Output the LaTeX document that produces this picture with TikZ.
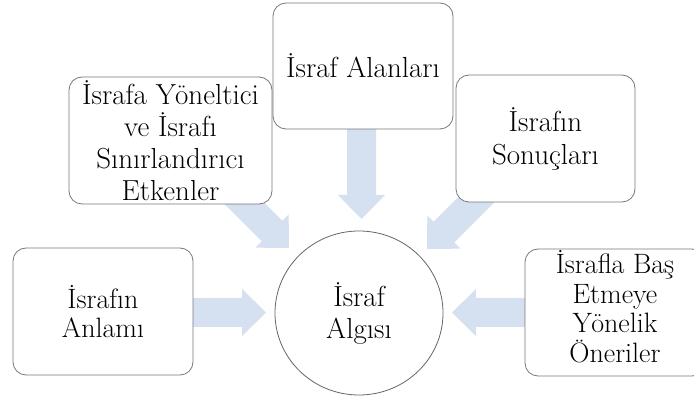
\documentclass[tikz,border=0pt]{standalone}
\usetikzlibrary{calc,shapes.geometric}
\definecolor{arrowblue}{RGB}{213,224,241}
\definecolor{boxgray}{RGB}{120,120,120}
\newcommand\blockarrow[3]{%
  \coordinate (#3h) at ($(#2)!24pt!(#1)$);
  \fill[arrowblue] ($(#1)!14.5pt!90:(#2)$) -- ($(#3h)!14.5pt!90:(#2)$) -- ($(#3h)!23.5pt!90:(#2)$)
    -- (#2) -- ($(#3h)!23.5pt!-90:(#2)$) -- ($(#3h)!14.5pt!-90:(#2)$) -- ($(#1)!14.5pt!-90:(#2)$) -- cycle;}
\tikzset{
  rbox/.style={draw=boxgray, line width=0.8pt, fill=white, rounded corners=13pt,
    minimum width=180pt, minimum height=127pt, inner sep=0pt, align=center,
    font=\fontsize{29}{32}\selectfont},
  tight/.style={font=\fontsize{28}{29.5}\selectfont},
  txt/.style={align=center, inner sep=0pt},
  oval/.style={draw=boxgray!85!black, line width=0.8pt, fill=white, ellipse,
    minimum width=168pt, minimum height=164pt, inner sep=0pt, align=center,
    font=\fontsize{29}{32}\selectfont}
}
\begin{document}
\begin{tikzpicture}[x=1pt, y=-1pt]
\useasboundingbox (0,0) rectangle (694,403);
\fill[white] (0,0) rectangle (694,403);
% arrow start / tip coordinates
\coordinate (sL) at (103,312.5);
\coordinate (tL) at (266,312.5);
\coordinate (sR) at (615,312.5);
\coordinate (tR) at (452,312.5);
\coordinate (sT) at (361.5,66);
\coordinate (tT) at (361.5,219);
\coordinate (sUL) at (189,148);
\coordinate (tUL) at (289,248);
\coordinate (sUR) at (527,149);
\coordinate (tUR) at (427,249);
\blockarrow{sL}{tL}{aL}
\blockarrow{sR}{tR}{aR}
\blockarrow{sT}{tT}{aT}
\blockarrow{sUL}{tUL}{aUL}
\blockarrow{sUR}{tUR}{aUR}
% boxes
\node[rbox, minimum width=203pt] (ul) at (170.5,140.5) {İsrafa Yöneltici\\ve İsrafı\\Sınırlandırıcı\\Etkenler};
\node[rbox, minimum height=126pt] (top) at (363,66) {İsraf Alanları};
\node[rbox, minimum width=179pt, font=\fontsize{29}{33}\selectfont] (tr) at (545.5,138.5) {İsrafın\\Sonuçları};
\node[rbox, tight] (lb) at (103,311.5) {İsrafın\\Anlamı};
\node[rbox] (rb) at (615,312.5) {};
\node[txt, tight] (rbt) at ([yshift=6pt]rb.center) {İsrafla Baş\\Etmeye\\Yönelik\\Öneriler};
\node[oval] (ell) at (359,313) {İsraf\\Algısı};
\end{tikzpicture}
\end{document}
